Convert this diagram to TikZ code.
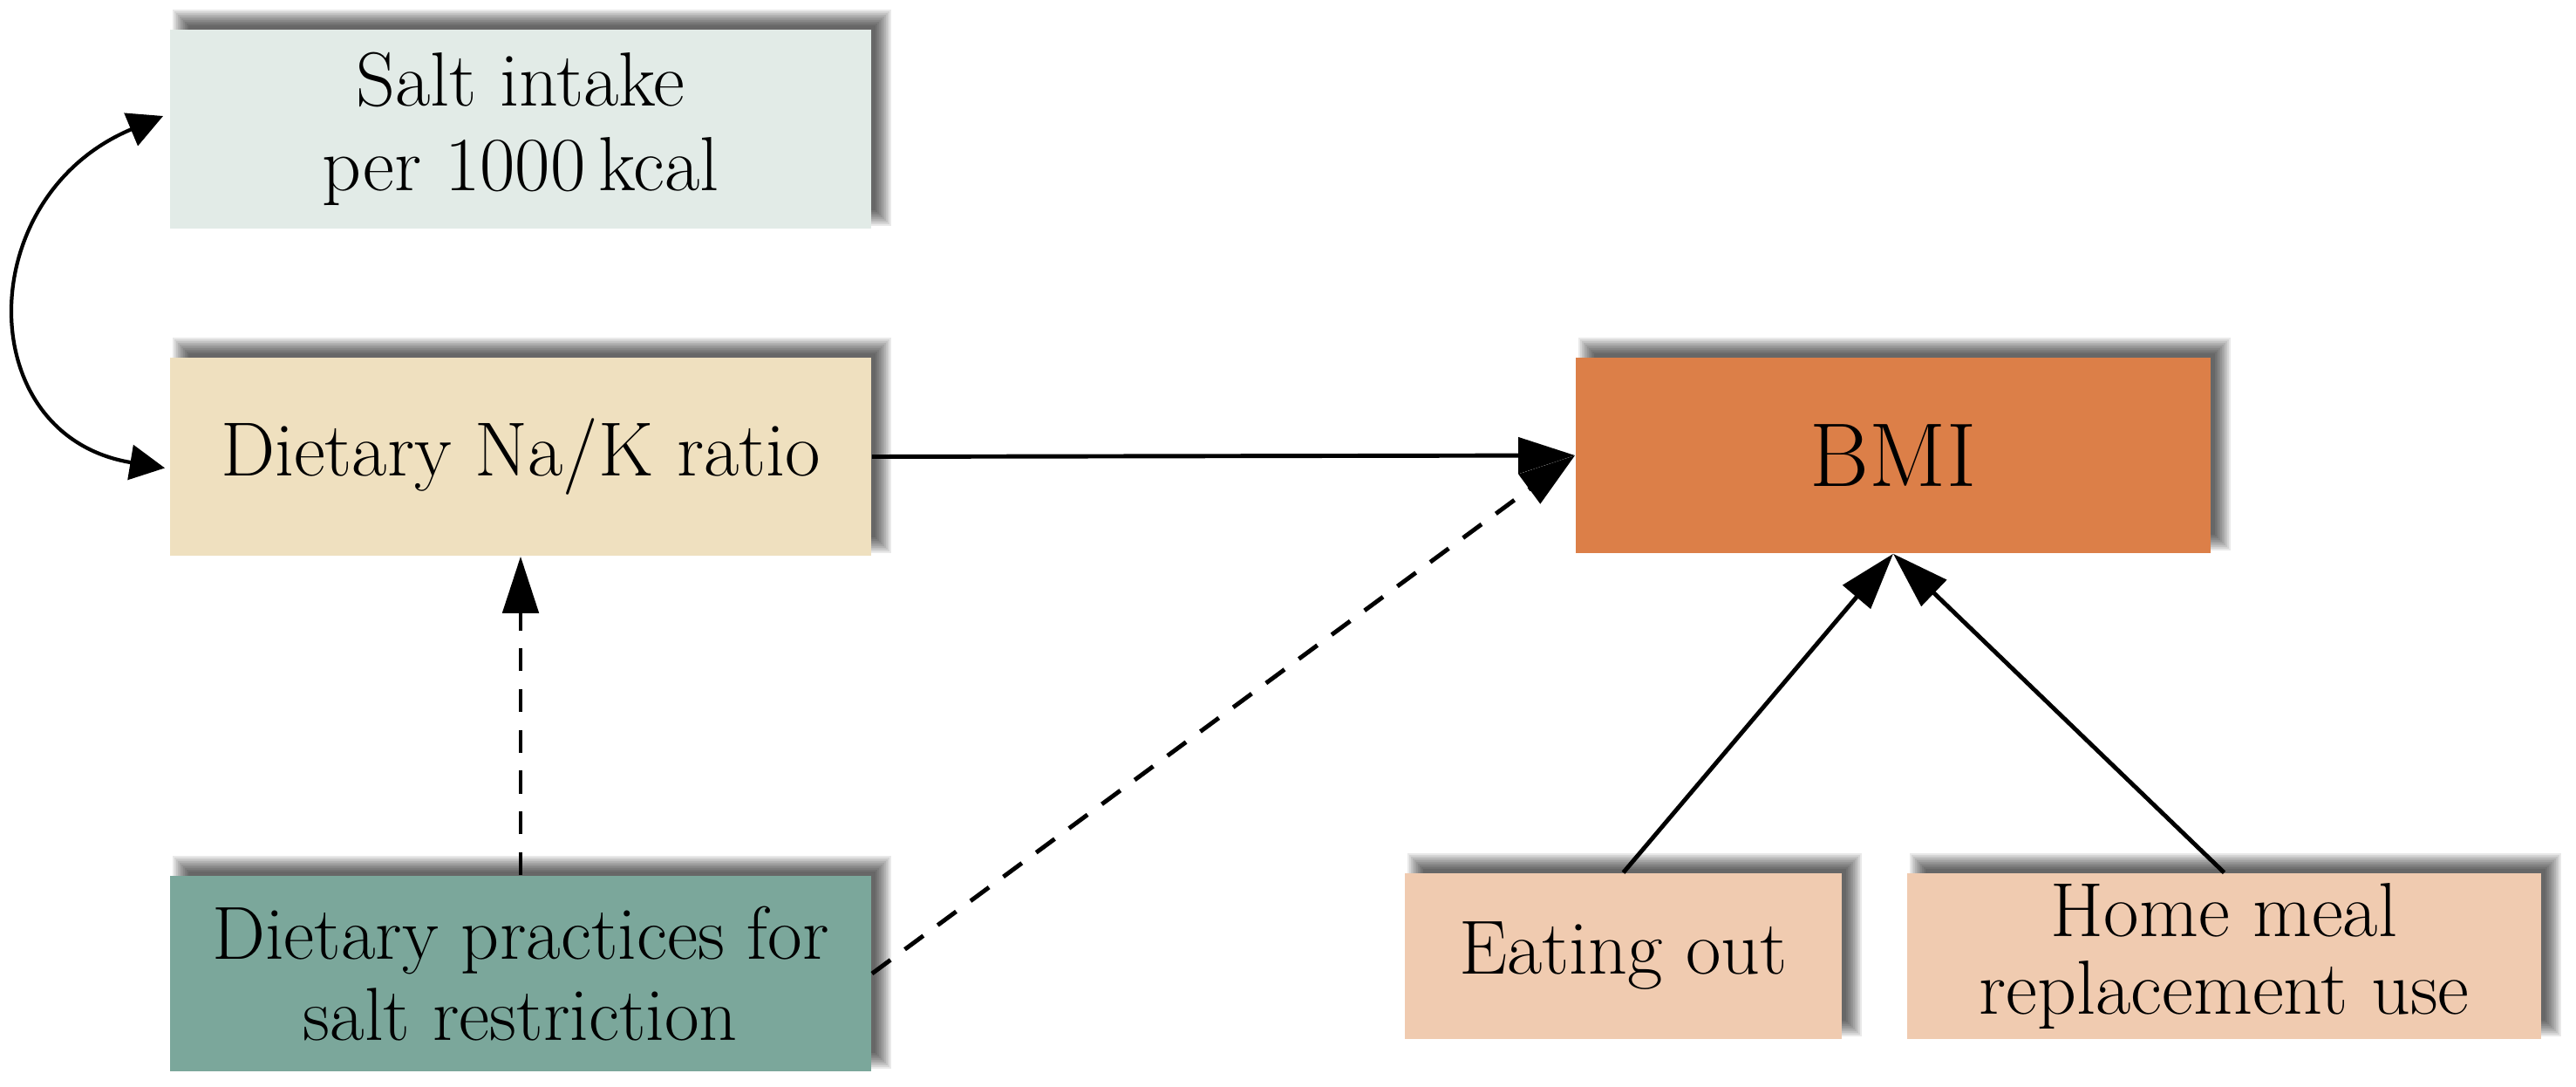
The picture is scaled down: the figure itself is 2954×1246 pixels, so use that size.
\documentclass[tikz,border=0pt]{standalone}
\usetikzlibrary{arrows.meta,calc}
\pgfdeclarelayer{bg}
\pgfsetlayers{bg,main}
\definecolor{cSalt}{RGB}{226,235,231}
\definecolor{cNaK}{RGB}{239,224,191}
\definecolor{cPrac}{RGB}{123,167,155}
\definecolor{cBMI}{RGB}{220,127,72}
\definecolor{cPeach}{RGB}{240,203,176}
\tikzset{
  box/.style={rectangle, inner sep=0pt, align=center, text=black,
    font=\fontsize{25}{27.5}\selectfont},
  conn/.style={line width=1.4pt, -{Triangle[length=6.5mm,width=4.1mm]}},
  dconn/.style={conn, dash pattern=on 7.5pt off 5.8pt},
  bidir/.style={line width=1.2pt,
    {Triangle[length=4mm,width=4mm]}-{Triangle[length=4mm,width=4mm]}},
}
\newcommand{\myboxshadow}[1]{%
  \begin{pgfonlayer}{bg}
    \foreach \e in {-9,-7,...,9}{
      \fill[black,opacity=0.085]
        ($(#1.south west)+(13-\e,-13+\e)$) rectangle ($(#1.north east)+(13+\e,-13-\e)$);
    }
  \end{pgfonlayer}}
\begin{document}
\begin{tikzpicture}[x=0.01cm,y=-0.01cm]
  \useasboundingbox (0,0) rectangle (2954,1246);
  % nodes
  \node[box, fill=cSalt, minimum width=8.04cm, minimum height=2.28cm] (salt) at (597,148)
    {Salt intake\\per 1000\,kcal};
  \node[box, fill=cNaK, minimum width=8.04cm, minimum height=2.27cm] (nak) at (597,523.5)
    {Dietary Na/K ratio};
  \node[box, fill=cPrac, minimum width=8.04cm, minimum height=2.24cm,
    font=\fontsize{24.5}{26.5}\selectfont] (prac) at (597,1116)
    {Dietary practices for\\salt restriction};
  \node[box, fill=cBMI, minimum width=7.28cm, minimum height=2.24cm,
    font=\fontsize{29.5}{32}\selectfont] (bmi) at (2171,522) {BMI};
  \node[box, fill=cPeach, minimum width=5.01cm, minimum height=1.90cm] (eat) at (1861.5,1096)
    {Eating out};
  \node[box, fill=cPeach, minimum width=7.27cm, minimum height=1.90cm,
    font=\fontsize{25}{25.5}\selectfont] (home) at (2550.5,1096)
    {Home meal\\replacement use};
  % shadows
  \myboxshadow{salt}
  \myboxshadow{nak}
  \myboxshadow{prac}
  \myboxshadow{bmi}
  \myboxshadow{eat}
  \myboxshadow{home}
  % connectors
  \draw[conn] (nak.east) -- (bmi.west);
  \draw[dconn] (prac.east) -- (bmi.west);
  \draw[dconn] (prac.north) -- (nak.south);
  \draw[conn] (eat.north) -- (bmi.south);
  \draw[conn] (home.north) -- (bmi.south);
  \draw[bidir] ($(salt.west)+(-7,-15)$) .. controls (-33,225) and (-33,500) .. ($(nak.west)+(-5,13)$);
\end{tikzpicture}
\end{document}
